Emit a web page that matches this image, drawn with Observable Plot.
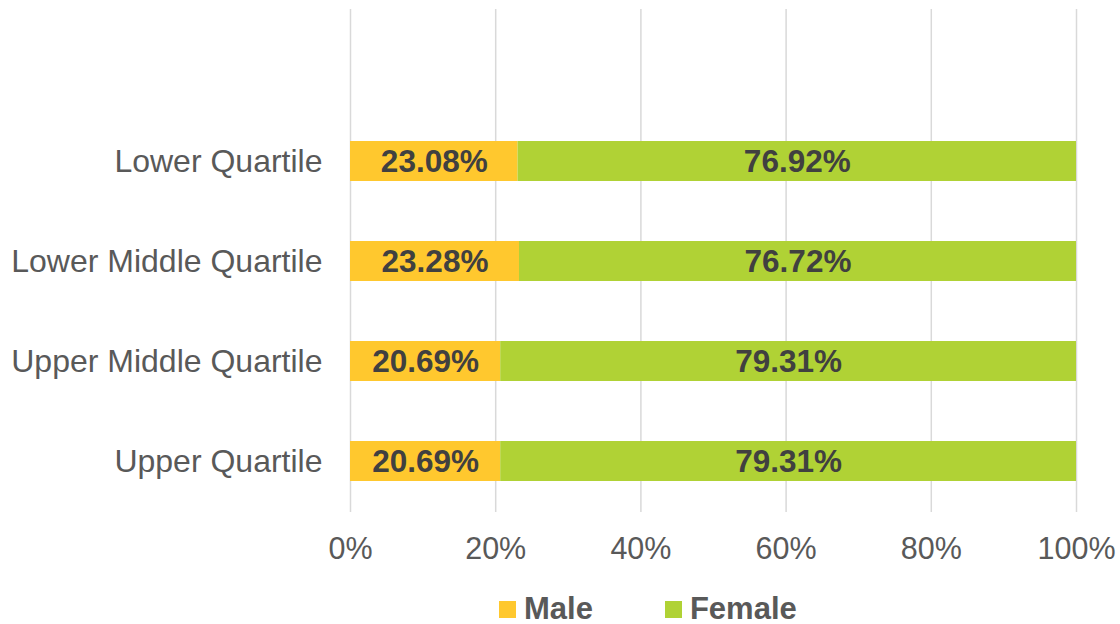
<!DOCTYPE html>
<html>
<head>
<meta charset="utf-8">
<script src="https://cdn.jsdelivr.net/npm/d3@7"></script>
<script src="https://cdn.jsdelivr.net/npm/@observablehq/plot@0.6"></script>
<style>
  body { margin: 0; background: #fff; font-family: "Liberation Sans", Arial, sans-serif; overflow: hidden; }
  #chart svg { display: block; }
  #legend { display: flex; align-items: center; padding-left: 499px; height: 30px; margin-top: 14px; }
  .item { display: flex; align-items: center; font-weight: bold; font-size: 31px; line-height: 30px; color: #595959; }
  .sw { width: 17px; height: 17px; margin-right: 8px; }
</style>
</head>
<body>
<div id="chart"></div>
<div id="legend"></div>
<script>
const categories = ["Lower Quartile", "Lower Middle Quartile", "Upper Middle Quartile", "Upper Quartile"];
const series = ["Male", "Female"];
const maleValues = [23.08, 23.28, 20.69, 20.69];
const femaleValues = [76.92, 76.72, 79.31, 79.31];
const xTicks = [0, 20, 40, 60, 80, 100];
const colors = ["#FFC82E", "#B0D235"];

const data = [];
categories.forEach((c, i) => {
  data.push({cat: c, sex: "Male", value: maleValues[i]});
  data.push({cat: c, sex: "Female", value: femaleValues[i]});
});

const H = 580;
const chart = Plot.plot({
  width: 1120,
  height: H,
  marginLeft: 350,
  marginRight: 44,
  marginTop: 9,
  marginBottom: H - 512,
  style: {fontFamily: "'Liberation Sans', Arial, sans-serif", fontSize: "30px", color: "#595959", background: "#fff"},
  x: {domain: [0, 100], ticks: xTicks, tickFormat: d => d + "%", label: null},
  y: {domain: categories, paddingInner: 0.6, paddingOuter: 0.3, insetTop: 101, label: null},
  color: {domain: series, range: colors},
  marks: [
    Plot.gridX(xTicks, {stroke: "#d9d9d9", strokeOpacity: 1, strokeWidth: 1.5}),
    Plot.axisX({ticks: xTicks, tickSize: 0, tickPadding: 25, tickFormat: d => d + "%", fontSize: 30.5, fill: "#595959", label: null}),
    Plot.axisY({tickSize: 0, tickPadding: 28, fontSize: 32, fill: "#595959", label: null}),
    Plot.barX(data, Plot.stackX({x: "value", y: "cat", fill: "sex", order: series})),
    Plot.text(data, Plot.stackX({x: "value", y: "cat", z: "sex", order: series, text: d => d.value.toFixed(2) + "%", fill: "#404040", fontWeight: "bold", fontSize: 31.5}))
  ]
});
document.getElementById("chart").appendChild(chart);

const legend = document.getElementById("legend");
series.forEach((s, i) => {
  const it = document.createElement("div");
  it.className = "item";
  if (i > 0) it.style.marginLeft = "72px";
  const sw = document.createElement("div");
  sw.className = "sw";
  sw.style.background = colors[i];
  it.appendChild(sw);
  const t = document.createElement("span");
  t.textContent = s;
  it.appendChild(t);
  legend.appendChild(it);
});
</script>
</body>
</html>
